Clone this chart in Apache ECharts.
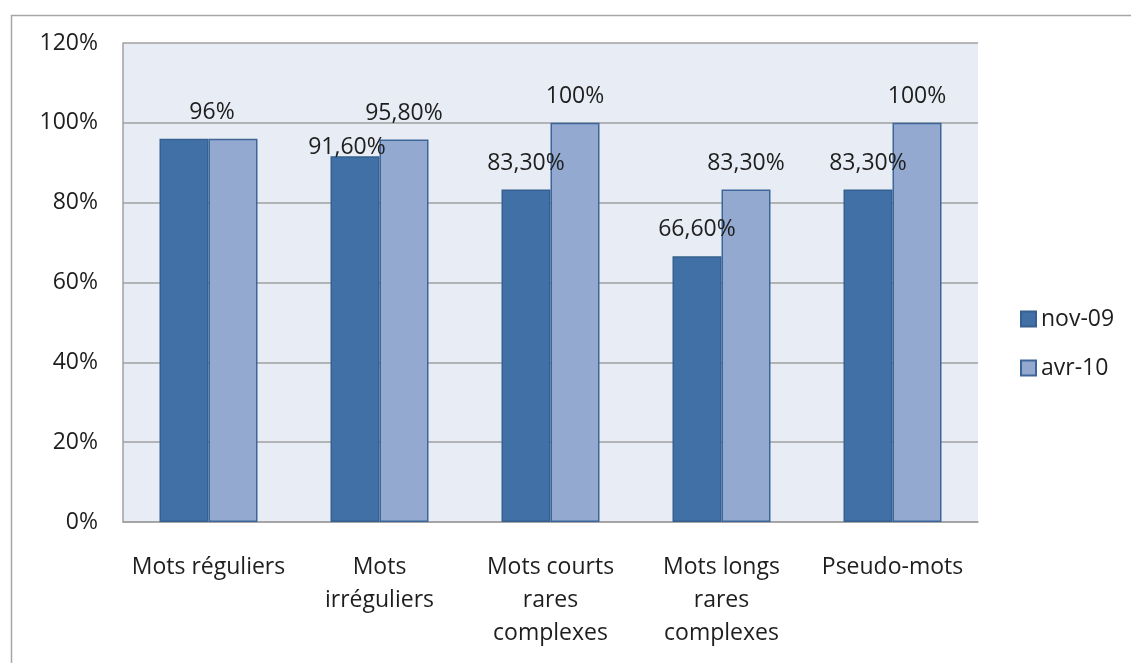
<!DOCTYPE html>
<html>
<head>
<meta charset="utf-8">
<script src="https://cdn.jsdelivr.net/npm/echarts@6/dist/echarts.min.js"></script>
<style>html,body{margin:0;padding:0;background:#fff;}#c{width:1131px;height:663px;}</style>
</head>
<body>
<div id="c"></div>
<script>
const categories = ['Mots réguliers', 'Mots\nirréguliers', 'Mots courts\nrares\ncomplexes', 'Mots longs\nrares\ncomplexes', 'Pseudo-mots'];
const seriesNames = ['nov-09', 'avr-10'];
const nov09 = [0.96, 0.916, 0.833, 0.666, 0.833];
const avr10 = [0.96, 0.958, 1.0, 0.833, 1.0];
const nov09Labels = ['', '91,60%', '83,30%', '66,60%', '83,30%'];
const avr10Labels = ['96%', '95,80%', '100%', '83,30%', '100%'];
const yTicks = { min: 0, max: 1.2, interval: 0.2 };

const FONT = 'Open Sans';
const TXT = '#1E1E1E';
const FS = 23;

function mkData(vals, labels, overrides) {
  return vals.map((v, i) => {
    const d = { value: v, label: { formatter: labels[i], show: labels[i] !== '' } };
    if (overrides[i]) Object.assign(d.label, overrides[i]);
    return d;
  });
}

const chart = echarts.init(document.getElementById('c'), null, { renderer: 'canvas' });
chart.setOption({
  animation: false,
  backgroundColor: '#ffffff',
  textStyle: { fontFamily: FONT },
  graphic: [{
    type: 'rect', left: 9, top: 13, silent: true,
    shape: { width: 1200, height: 700 },
    style: { fill: 'none', stroke: '#A6A6A6', lineWidth: 1.5 }
  }],
  grid: {
    left: 123, top: 43, right: 153, bottom: 141,
    show: true, backgroundColor: '#E8ECF4', borderWidth: 0
  },
  legend: {
    orient: 'vertical', left: 1020, top: 306, padding: 0,
    itemWidth: 15, itemHeight: 15, itemGap: 23,
    icon: 'rect',
    textStyle: { fontFamily: FONT, fontSize: FS, color: TXT, lineHeight: 26, padding: [0, 0, 0, 0] },
    data: seriesNames
  },
  xAxis: {
    type: 'category', data: categories,
    axisLine: { show: true, lineStyle: { color: '#A0A0A0', width: 1.5 } },
    axisTick: { show: false },
    axisLabel: { interval: 0, margin: 29, fontFamily: FONT, fontSize: FS, color: TXT, lineHeight: 33 },
    splitLine: { show: false }
  },
  yAxis: {
    type: 'value', min: yTicks.min, max: yTicks.max, interval: yTicks.interval,
    axisLine: { show: true, lineStyle: { color: '#A0A0A0', width: 1.5 } },
    axisTick: { show: false },
    axisLabel: { margin: 25, fontFamily: FONT, fontSize: FS, color: TXT,
      formatter: v => Math.round(v * 100) + '%' },
    splitLine: { show: true, lineStyle: { color: '#A0A0A0', width: 1.5 } }
  },
  series: [
    {
      name: seriesNames[0], type: 'bar', barWidth: 49, barGap: '0%',
      itemStyle: { color: '#4170A7', borderColor: '#36608F', borderWidth: 1.5 },
      label: { show: true, position: 'top', distance: 15, fontFamily: FONT, fontSize: FS, color: TXT },
      data: mkData(nov09, nov09Labels, { 1: { offset: [-8, 18] } })
    },
    {
      name: seriesNames[1], type: 'bar', barWidth: 49, barGap: '0%',
      itemStyle: { color: '#93A9CF', borderColor: '#3C669A', borderWidth: 1.5 },
      label: { show: true, position: 'top', distance: 15, fontFamily: FONT, fontSize: FS, color: TXT },
      data: mkData(avr10, avr10Labels, { 0: { offset: [-21, 0] } })
    }
  ]
});
</script>
</body>
</html>
